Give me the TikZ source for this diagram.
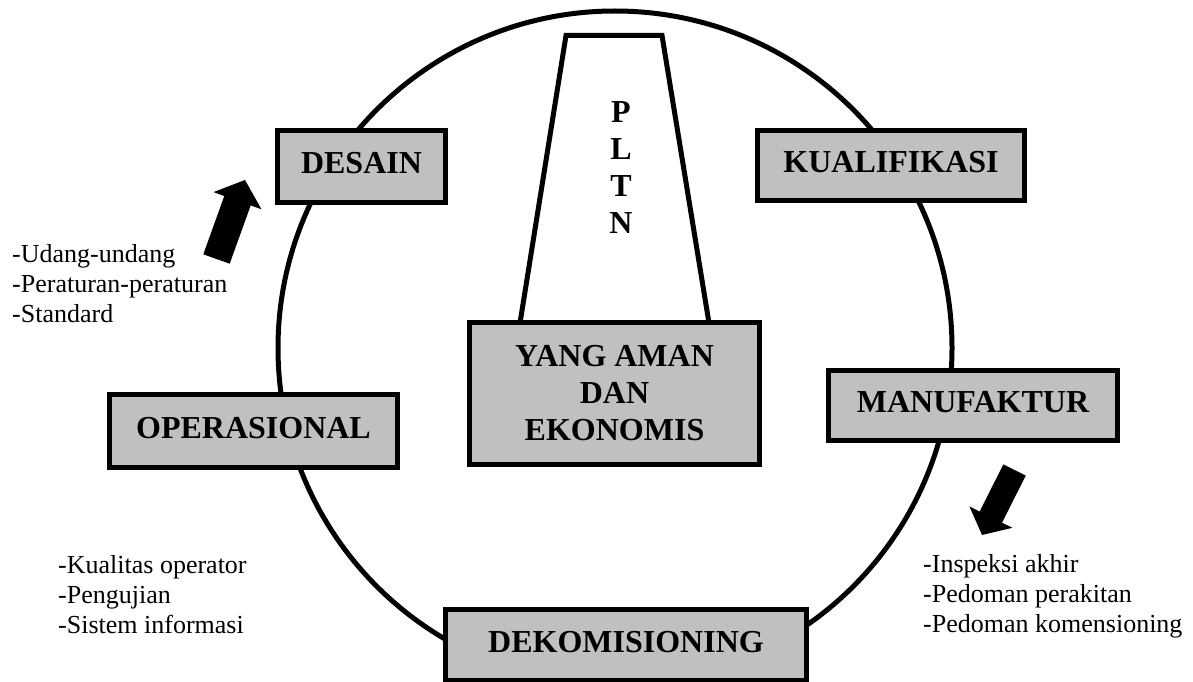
\documentclass[tikz,border=0pt]{standalone}
\usepackage{fontspec}
\setmainfont{Liberation Serif}
\definecolor{boxgray}{RGB}{192,192,192}
\begin{document}
\begin{tikzpicture}[x=1pt,y=-1pt,
  stagebox/.style={draw=black,line width=5pt,fill=boxgray,rectangle,inner sep=0pt,
    font=\fontsize{32}{37}\selectfont\bfseries},
  stage/.style={stagebox,text height=21pt,text depth=7pt},
  listline/.style={anchor=base west,inner sep=0pt,font=\fontsize{26}{30}\selectfont},
  ring/.style={line width=5pt},
  tower/.style={line width=5pt,line join=miter},
  blockarrow/.style={fill=black}]
\useasboundingbox (0,0) rectangle (1193,682);
\clip (0,0) rectangle (1193,682);
\coordinate (c) at (615,348);
\draw[ring] (c) circle[radius=337];

% tower
\draw[tower] (520,323) -- (566,35.5) -- (662,35.5) -- (709,323);
\node[inner sep=0pt,align=center,font=\fontsize{32}{37}\selectfont\bfseries] (pltn) at (621,167.5) {P\\L\\T\\N};

% boxes
\node[stage,minimum width=168pt,minimum height=72pt] (desain) at (361.5,166.5) {DESAIN};
\node[stage,minimum width=267pt,minimum height=70pt] (kual) at (891,165.5) {KUALIFIKASI};
\node[stage,minimum width=289pt,minimum height=70pt] (manu) at (973,405.5) {MANUFAKTUR};
\node[stage,minimum width=288pt,minimum height=73pt] (oper) at (253.5,431) {OPERASIONAL};
\node[stage,minimum width=361pt,minimum height=71pt] (dekom) at (626,645) {DEKOMISIONING};
\node[stagebox,align=center,minimum width=290pt,minimum height=142pt] (center) at (614.5,393.5) {YANG AMAN\\DAN\\EKONOMIS};

% block arrows
\fill[blockarrow] (203.3,254.3) -- (224.3,196.0) -- (213.5,192.1) -- (245,180) -- (261.5,209.3) -- (250.7,205.4) -- (229.7,263.7) -- cycle;
\fill[blockarrow] (1003.3,464.4) -- (979.7,511.5) -- (969.4,506.4) -- (982,535) -- (1012.4,527.8) -- (1002.1,522.7) -- (1025.7,475.6) -- cycle;

% lists
\node[listline] (l1a) at (12,262) {-Udang-undang};
\node[listline] (l1b) at (12,292) {-Peraturan-peraturan};
\node[listline] (l1c) at (12,322) {-Standard};
\node[listline] (l2a) at (58,573) {-Kualitas operator};
\node[listline] (l2b) at (58,603) {-Pengujian};
\node[listline] (l2c) at (58,633) {-Sistem informasi};
\node[listline] (l3a) at (923,572) {-Inspeksi akhir};
\node[listline] (l3b) at (923,602) {-Pedoman perakitan};
\node[listline] (l3c) at (923,632) {-Pedoman komensioning};
\end{tikzpicture}
\end{document}
